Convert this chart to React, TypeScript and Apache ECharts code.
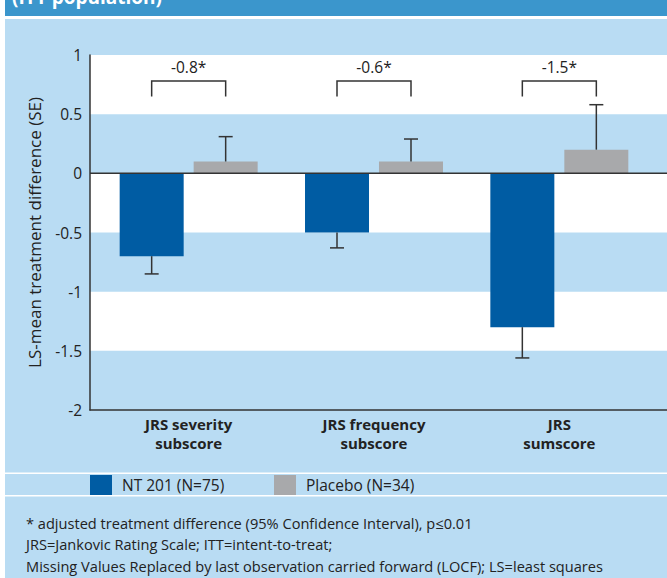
import React, { useEffect, useRef } from "react";
import * as echarts from "echarts";

const categories = ["JRS severity\nsubscore", "JRS frequency\nsubscore", "JRS\nsumscore"];
const seriesNames = ["NT 201 (N=75)", "Placebo (N=34)"];
const nt201Values = [-0.7, -0.5, -1.3];
const placeboValues = [0.1, 0.1, 0.2];
const nt201ErrorEnds = [-0.85, -0.63, -1.56];
const placeboErrorEnds = [0.31, 0.29, 0.58];
const differenceLabels = ["-0.8*", "-0.6*", "-1.5*"];
const yMin = -2;
const yMax = 1;
const yInterval = 0.5;
const bracketLevel = 0.78;
const bracketLegEnd = 0.65;
const bracketLabelLevel = 0.9;
const yAxisName = "LS-mean treatment difference (SE)";
const headerTitle = "(ITT population)";
const footnotes = [
  "* adjusted treatment difference (95% Confidence Interval), p\u22640.01",
  "JRS=Jankovic Rating Scale; ITT=intent-to-treat;",
  "Missing Values Replaced by last observation carried forward (LOCF); LS=least squares",
];

const FONT = "'Open Sans', 'Noto Sans', sans-serif";
const HEADER = "#3b96cc";
const LIGHT = "#b9dcf3";
const BLUE = "#005ca3";
const GRAY = "#a8a9ab";
const AXIS = "#333333";
const TEXT = "#222222";
const BAR_OFFSET = 37;

function errorRenderer(offset: number) {
  return (params: any, api: any) => {
    const base = api.coord([api.value(0), api.value(1)]);
    const end = api.coord([api.value(0), api.value(2)]);
    const x = base[0] + offset;
    return {
      type: "group",
      children: [
        { type: "line", shape: { x1: x, y1: base[1], x2: x, y2: end[1] }, style: { stroke: AXIS, lineWidth: 1.5 } },
        { type: "line", shape: { x1: x - 7, y1: end[1], x2: x + 7, y2: end[1] }, style: { stroke: AXIS, lineWidth: 1.5 } },
      ],
    };
  };
}

function bracketRenderer(params: any, api: any) {
  const idx = api.value(0);
  const top = api.coord([idx, api.value(1)]);
  const foot = api.coord([idx, api.value(2)]);
  const lab = api.coord([idx, api.value(3)]);
  const cx = top[0];
  return {
    type: "group",
    children: [
      {
        type: "polyline",
        shape: {
          points: [
            [cx - BAR_OFFSET, foot[1]],
            [cx - BAR_OFFSET, top[1]],
            [cx + BAR_OFFSET, top[1]],
            [cx + BAR_OFFSET, foot[1]],
          ],
        },
        style: { stroke: AXIS, lineWidth: 1.5, fill: null },
      },
      {
        type: "text",
        x: cx,
        y: lab[1],
        style: {
          text: differenceLabels[params.dataIndex],
          align: "center",
          verticalAlign: "middle",
          font: `15.5px ${FONT}`,
          fill: TEXT,
        },
      },
    ],
  };
}

export default function App() {
  const ref = useRef<HTMLDivElement>(null);
  useEffect(() => {
    if (!ref.current) return;
    const chart = echarts.init(ref.current, undefined, { renderer: "svg" });
    const legendBase = {
      top: 475,
      itemWidth: 22,
      itemHeight: 20,
      icon: "rect",
      padding: 0,
      selectedMode: false,
      textStyle: { fontSize: 15.5, color: TEXT, fontFamily: FONT, padding: [0, 0, 0, 5] },
    };
    const option: any = {
      animation: false,
      backgroundColor: "#ffffff",
      textStyle: { fontFamily: FONT },
      graphic: [
        { type: "rect", z: -10, silent: true, shape: { x: 5, y: 0, width: 662, height: 16 }, style: { fill: HEADER } },
        {
          type: "text",
          z: -9,
          x: 12,
          y: 6,
          silent: true,
          style: { text: headerTitle, fill: "#ffffff", font: `bold 19px ${FONT}`, verticalAlign: "bottom" },
        },
        { type: "rect", z: -10, silent: true, shape: { x: 5, y: 19, width: 662, height: 559 }, style: { fill: LIGHT } },
        { type: "rect", z: -9, silent: true, shape: { x: 5, y: 472.5, width: 662, height: 1.5 }, style: { fill: "#ffffff" } },
        { type: "rect", z: -9, silent: true, shape: { x: 5, y: 495, width: 662, height: 1.5 }, style: { fill: "#ffffff" } },
        {
          type: "text",
          x: 26,
          y: 512,
          silent: true,
          style: { text: footnotes.join("\n"), fill: TEXT, font: `14.6px ${FONT}`, lineHeight: 21.5, verticalAlign: "top" },
        },
      ],
      legend: [
        { ...legendBase, left: 90, data: [seriesNames[0]] },
        { ...legendBase, left: 274, data: [seriesNames[1]] },
      ],
      grid: [
        { left: 90, right: 0, top: 55, bottom: 168 },
        { left: 96, width: 556, top: 55, bottom: 168 },
      ],
      xAxis: [
        {
          gridIndex: 0,
          type: "value",
          min: 0,
          max: 1,
          axisLine: { show: true, onZero: false, lineStyle: { color: AXIS, width: 1.5 } },
          axisTick: { show: false },
          axisLabel: { show: false },
          splitLine: { show: false },
        },
        {
          gridIndex: 1,
          type: "category",
          data: categories,
          axisLine: { show: false },
          axisTick: { show: false },
          axisLabel: { fontSize: 15, fontWeight: "bold", color: TEXT, lineHeight: 19, margin: 4, fontFamily: FONT },
        },
      ],
      yAxis: [
        {
          gridIndex: 0,
          type: "value",
          min: yMin,
          max: yMax,
          interval: yInterval,
          name: yAxisName,
          nameLocation: "middle",
          nameGap: 47,
          nameTextStyle: { fontSize: 17, color: TEXT, fontFamily: FONT },
          axisLine: { show: true, lineStyle: { color: AXIS, width: 1.5 } },
          axisTick: { show: false },
          axisLabel: { fontSize: 15.5, color: TEXT, margin: 8, fontFamily: FONT },
          splitLine: { show: false },
          splitArea: { show: true, areaStyle: { color: ["rgba(0,0,0,0)", "#ffffff"] } },
        },
        { gridIndex: 1, type: "value", min: yMin, max: yMax, interval: yInterval, show: false },
      ],
      series: [
        {
          name: seriesNames[0],
          type: "bar",
          xAxisIndex: 1,
          yAxisIndex: 1,
          data: nt201Values,
          barWidth: 64,
          barGap: "15.6%",
          itemStyle: { color: BLUE },
        },
        {
          name: seriesNames[1],
          type: "bar",
          xAxisIndex: 1,
          yAxisIndex: 1,
          data: placeboValues,
          barWidth: 64,
          barGap: "15.6%",
          itemStyle: { color: GRAY },
        },
        {
          type: "custom",
          xAxisIndex: 1,
          yAxisIndex: 1,
          data: nt201Values.map((v, i) => [i, v, nt201ErrorEnds[i]]),
          renderItem: errorRenderer(-BAR_OFFSET),
          z: 3,
        },
        {
          type: "custom",
          xAxisIndex: 1,
          yAxisIndex: 1,
          data: placeboValues.map((v, i) => [i, v, placeboErrorEnds[i]]),
          renderItem: errorRenderer(BAR_OFFSET),
          z: 3,
        },
        {
          type: "custom",
          xAxisIndex: 1,
          yAxisIndex: 1,
          data: differenceLabels.map((_, i) => [i, bracketLevel, bracketLegEnd, bracketLabelLevel]),
          renderItem: bracketRenderer,
          z: 3,
        },
        {
          type: "line",
          xAxisIndex: 0,
          yAxisIndex: 0,
          data: [
            [0, 0],
            [1, 0],
          ],
          symbol: "none",
          silent: true,
          lineStyle: { color: AXIS, width: 1.5 },
          z: 4,
        },
      ],
    };
    chart.setOption(option);
    return () => chart.dispose();
  }, []);
  return <div ref={ref} style={{ position: "absolute", left: 0, top: 0, width: 667, height: 578 }} />;
}
